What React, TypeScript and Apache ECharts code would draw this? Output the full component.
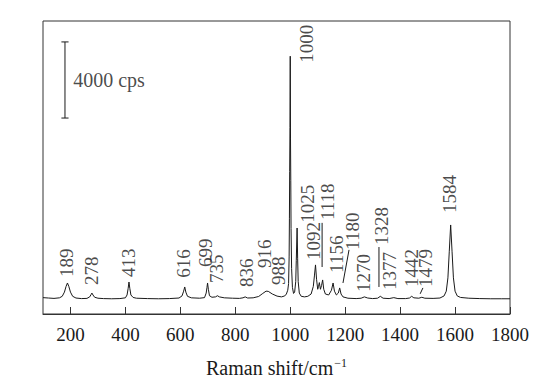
import React, { useEffect, useRef } from "react";
import * as echarts from "echarts";

// Raman spectrum: [wavenumber (cm-1), intensity (cps)]
const spectrum: [number, number][] = [
  [100, 860], [120, 840], [140, 820], [160, 850], [170, 930], [178, 1150], [184, 1450], [189, 1630],
  [194, 1450], [200, 1150], [208, 930], [220, 840], [240, 810], [260, 820], [270, 900], [275, 1020],
  [278, 1100], [282, 1000], [288, 880], [300, 830], [320, 810], [350, 800], [380, 810], [400, 850],
  [406, 1000], [410, 1350], [413, 1680], [416, 1350], [420, 1000], [428, 870], [440, 830], [480, 810],
  [520, 800], [560, 810], [595, 840], [606, 950], [612, 1200], [616, 1420], [620, 1150], [626, 930],
  [640, 850], [670, 830], [688, 860], [694, 1100], [697, 1400], [699, 1630], [702, 1300], [706, 960],
  [715, 880], [728, 900], [735, 960], [742, 900], [760, 850], [790, 830], [815, 820], [828, 850],
  [836, 900], [845, 840], [865, 850], [885, 920], [900, 1080], [912, 1200], [920, 1190], [935, 1050],
  [952, 940], [968, 900], [980, 950], [986, 1050], [991, 1250], [994, 1600], [996, 3000], [997, 5000],
  [998, 7500], [999, 9800], [1000, 13550], [1001, 9200], [1002, 7000], [1003, 4500], [1005, 2400],
  [1008, 1400], [1012, 1080], [1016, 1150], [1020, 1700], [1022, 2800], [1025, 4520], [1027, 2900],
  [1029, 1700], [1033, 1100], [1040, 930], [1052, 900], [1064, 930], [1076, 1050], [1084, 1450],
  [1088, 2000], [1092, 2580], [1096, 1800], [1100, 1300], [1103, 1450], [1106, 1650], [1110, 1300],
  [1114, 1500], [1118, 1790], [1122, 1300], [1128, 1050], [1140, 1000], [1150, 1250], [1156, 1630],
  [1161, 1200], [1168, 1000], [1175, 1100], [1180, 1370], [1185, 1050], [1192, 900], [1210, 830],
  [1240, 810], [1258, 830], [1270, 900], [1282, 840], [1300, 810], [1318, 830], [1328, 930],
  [1338, 830], [1360, 810], [1377, 860], [1392, 810], [1420, 810], [1434, 840], [1442, 930],
  [1450, 850], [1468, 830], [1479, 880], [1490, 830], [1520, 820], [1545, 840], [1560, 950],
  [1568, 1200], [1574, 1900], [1579, 3300], [1584, 4680], [1589, 3300], [1594, 1900], [1600, 1200],
  [1608, 950], [1620, 870], [1650, 830], [1690, 810], [1730, 800], [1770, 800], [1800, 800],
];

// Peak annotations: [text, label anchor wavenumber, label anchor intensity]
const peakLabels: [string, number, number][] = [
  ["189", 187, 1950], ["278", 278, 1530], ["413", 413, 1950], ["616", 613, 1900],
  ["699", 693, 2470], ["735", 730, 1630], ["836", 839, 1420], ["916", 908, 2420],
  ["988", 959, 1530], ["1000", 1061, 13200], ["1025", 1063, 4790], ["1092", 1085, 2840],
  ["1118", 1134, 4940], ["1156", 1167, 2160], ["1180", 1228, 3370], ["1270", 1268, 1160],
  ["1328", 1332, 3630], ["1377", 1363, 1260], ["1442", 1440, 1420], ["1479", 1494, 1420],
  ["1584", 1581, 5310],
];

// Leader lines from labels to peaks: [[x1, y1], [x2, y2]]
const leaders: [number, number][][] = [
  [[1116, 4790], [1116, 2470]],
  [[1214, 3370], [1192, 1630]],
  [[1323, 3520], [1323, 1420]],
  [[1483, 1370], [1473, 1060]],
];

// Scale bar (4000 cps)
const scaleBarX = 180;
const scaleBarRange: [number, number] = [10300, 14300];
const scaleBarText = "4000 cps";

const xTicks = [200, 400, 600, 800, 1000, 1200, 1400, 1600, 1800];

const FONT = "'Liberation Serif', 'Times New Roman', serif";
const INK = "#1a1a1a";

export default function App() {
  const ref = useRef<HTMLDivElement>(null);
  useEffect(() => {
    if (!ref.current) return;
    const chart = echarts.init(ref.current, undefined, { renderer: "svg" });
    const series: any[] = [
      {
        type: "line",
        data: spectrum,
        showSymbol: false,
        lineStyle: { color: INK, width: 1 },
        silent: true,
        z: 3,
      },
      {
        type: "scatter",
        symbolSize: 0,
        data: peakLabels.map((p) => ({ value: [p[1], p[2]], name: p[0] })),
        label: {
          show: true,
          formatter: (p: any) => p.name,
          position: [0, 0],
          rotate: 90,
          align: "left",
          verticalAlign: "middle",
          fontFamily: FONT,
          fontSize: 19,
          color: INK,
        },
        silent: true,
        z: 4,
      },
      ...leaders.map((seg) => ({
        type: "line",
        data: seg,
        showSymbol: false,
        lineStyle: { color: INK, width: 1 },
        silent: true,
      })),
      {
        type: "line",
        data: [
          [scaleBarX, scaleBarRange[0]],
          [scaleBarX, scaleBarRange[1]],
        ],
        showSymbol: false,
        lineStyle: { color: INK, width: 1 },
        silent: true,
      },
      ...scaleBarRange.map((v) => ({
        type: "line",
        data: [
          [scaleBarX - 13, v],
          [scaleBarX + 13, v],
        ],
        showSymbol: false,
        lineStyle: { color: INK, width: 1 },
        silent: true,
      })),
      {
        type: "scatter",
        symbolSize: 0,
        data: [{ value: [scaleBarX + 30, (scaleBarRange[0] + scaleBarRange[1]) / 2], name: scaleBarText }],
        label: {
          show: true,
          formatter: (p: any) => p.name,
          position: [0, 0],
          align: "left",
          verticalAlign: "middle",
          fontFamily: FONT,
          fontSize: 20,
          color: INK,
        },
        silent: true,
      },
    ];
    chart.setOption({
      animation: false,
      backgroundColor: "#ffffff",
      textStyle: { fontFamily: FONT },
      grid: {
        left: 43,
        right: 50,
        top: 21,
        bottom: 78,
        show: true,
        borderColor: "#333",
        borderWidth: 1,
        backgroundColor: "transparent",
      },
      xAxis: {
        type: "value",
        min: 100,
        max: 1800,
        name: "Raman shift/cm{sup|\u22121}",
        nameLocation: "middle",
        nameGap: 43,
        nameTextStyle: {
          fontFamily: FONT,
          fontSize: 20,
          color: INK,
          rich: {
            sup: { fontFamily: FONT, fontSize: 12, color: INK, verticalAlign: "top", padding: [0, 0, 10, 1] },
          },
        },
        axisLine: { show: true, lineStyle: { color: "#333" } },
        axisTick: { show: true, inside: true, length: 7, customValues: xTicks, lineStyle: { color: "#333" } },
        axisLabel: {
          customValues: xTicks,
          formatter: (v: number) => String(v),
          fontFamily: FONT,
          fontSize: 19,
          color: INK,
          margin: 11,
        },
        splitLine: { show: false },
      },
      yAxis: {
        type: "value",
        min: 0,
        max: 15400,
        show: false,
        splitLine: { show: false },
      },
      series,
    });
    return () => chart.dispose();
  }, []);
  return (
    <div
      ref={ref}
      style={{ position: "fixed", left: 0, top: 0, width: 560, height: 392, background: "#fff" }}
    />
  );
}
